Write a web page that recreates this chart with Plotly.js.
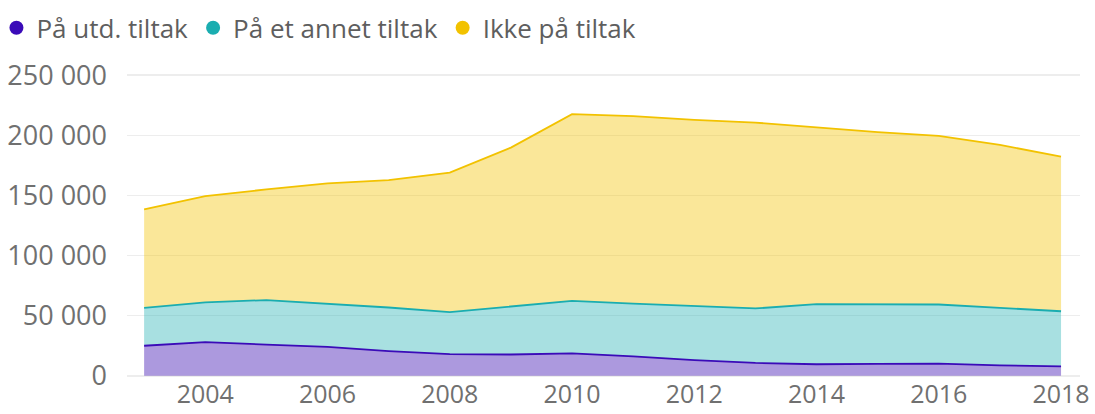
<!DOCTYPE html>
<html>
<head>
<meta charset="utf-8">
<script src="https://cdn.plot.ly/plotly-3.0.1.min.js"></script>
<style>html,body{margin:0;padding:0;background:#fff;}#chart{width:1095px;height:414px;}</style>
</head>
<body>
<div id="chart"></div>
<script>
const years = [2003,2004,2005,2006,2007,2008,2009,2010,2011,2012,2013,2014,2015,2016,2017,2018];
const paUtdTiltak = [25000,28000,26000,24000,20500,18000,17700,18700,16200,13000,10700,9600,9900,10100,8700,7900];
const paAnnetTiltak = [31500,33000,37000,36000,36300,35000,40200,43600,43800,45000,45300,50000,49700,49200,47800,45800];
const ikkePaTiltak = [81900,88500,92000,100000,106000,116000,131900,155300,156000,154800,154600,147100,143000,140200,135500,128600];
const seriesNames = ["På utd. tiltak","På et annet tiltak","Ikke på tiltak"];
const xTickVals = [2004,2006,2008,2010,2012,2014,2016,2018];
const yTickVals = [0,50000,100000,150000,200000,250000];

const lineColors = ["#3A0BB8","#1AADB0","#F2C200"];
const fillColors = ["rgba(58,11,176,0.42)","rgba(26,173,176,0.38)","rgba(242,194,0,0.4)"];
const seriesData = [paUtdTiltak, paAnnetTiltak, ikkePaTiltak];

const traces = [];
seriesData.forEach((vals,i)=>{
  traces.push({
    type:'scatter', mode:'lines', x:years, y:vals, stackgroup:'one',
    name:seriesNames[i], showlegend:false, legendgroup:'g'+i,
    line:{color:lineColors[i], width:1.8}, fillcolor:fillColors[i], hoverinfo:'skip'
  });
});
seriesData.forEach((vals,i)=>{
  traces.push({
    type:'scatter', mode:'markers', x:[years[0]], y:[-100000],
    name:seriesNames[i], showlegend:true, legendgroup:'g'+i,
    marker:{color:lineColors[i], size:14, symbol:'circle'}, hoverinfo:'skip', cliponaxis:true
  });
});

const layout = {
  width:1095, height:414,
  margin:{l:127, r:15, t:74, b:37, autoexpand:false},
  paper_bgcolor:'#fff', plot_bgcolor:'#fff',
  separators:', ',
  font:{family:'"Open Sans", "Noto Sans", sans-serif', color:'#707070', size:24},
  showlegend:true,
  legend:{orientation:'h', x:-0.137, y:1.23, xanchor:'left', yanchor:'top',
          font:{size:26, color:'#5E5E5E'}, traceorder:'normal', itemclick:false, bgcolor:'rgba(0,0,0,0)'},
  xaxis:{range:[2002.72,2018.31], tickvals:xTickVals, ticktext:xTickVals.map(String), showgrid:false, zeroline:false,
         showline:false, ticks:'', tickfont:{size:25, color:'#707070'}, fixedrange:true},
  yaxis:{range:[-1000,251000], tickvals:yTickVals, tickformat:',d', showgrid:true, gridcolor:'#EDEDED', gridwidth:1.5,
         zeroline:false, showline:false, ticks:'', tickfont:{size:27, color:'#707070'}, ticklabelstandoff:19, fixedrange:true},
  hovermode:false
};
Plotly.newPlot('chart', traces, layout, {displayModeBar:false, staticPlot:true});
</script>
</body>
</html>
